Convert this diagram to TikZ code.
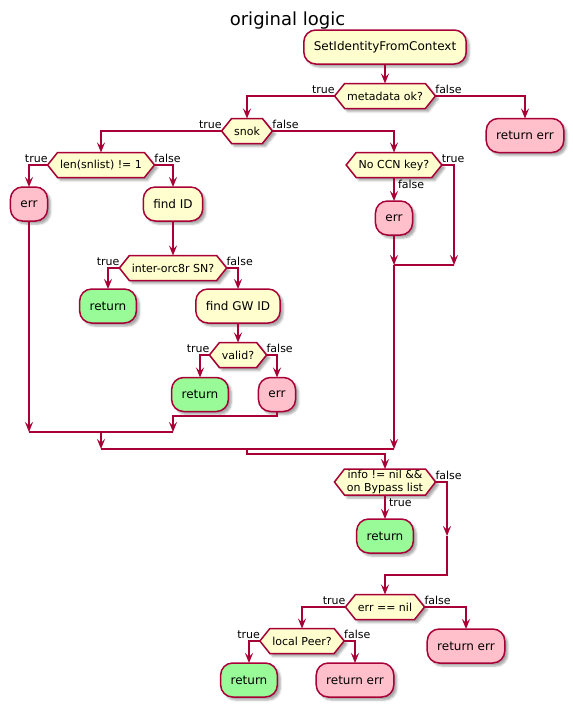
\documentclass[tikz,border=0pt]{standalone}
\usepackage{fontspec}
\setmainfont{DejaVu Sans}
\usetikzlibrary{arrows.meta,shadows,shadows.blur}
\pgfdeclarelayer{background}
\pgfsetlayers{background,main}
\definecolor{lc}{HTML}{A80036}
\definecolor{cream}{HTML}{FEFECE}
\definecolor{pinkc}{HTML}{FFC0CB}
\definecolor{greenc}{HTML}{98FB98}
\tikzset{
 shad/.style={blur shadow={shadow xshift=3pt,shadow yshift=-3pt,shadow blur radius=2pt,shadow opacity=35}},
 box/.style={draw=lc, line width=1.5pt, rounded corners=12pt, minimum height=34pt, inner xsep=10pt, inner ysep=0pt, outer sep=0pt, font=\fontsize{12}{14}\selectfont, shad},
 act/.style={box, fill=cream},
 bad/.style={box, fill=pinkc},
 good/.style={box, fill=greenc},
 dec/.style={draw=none, minimum height=25pt, inner xsep=12.5pt, inner ysep=1pt, outer sep=0pt, font=\fontsize{11}{13}\selectfont, align=center},
 conn/.style={draw=lc, line width=1.5pt, -{Stealth[length=10pt,width=8pt,inset=4pt]}},
 plain/.style={draw=lc, line width=1.5pt},
 lbl/.style={font=\fontsize{11}{13}\selectfont, inner sep=0pt, outer sep=0pt},
}
\newcommand\hexshape[1]{%
 \path[shad, fill=cream, draw=lc, line width=1.5pt] (#1.west) -- ([xshift=10pt]#1.north west) -- ([xshift=-10pt]#1.north east) -- (#1.east) -- ([xshift=-10pt]#1.south east) -- ([xshift=10pt]#1.south west) -- cycle;}
\begin{document}
\begin{tikzpicture}[x=1pt,y=-1pt]
\useasboundingbox (0,0) rectangle (573,707);
\node[font=\fontsize{18}{21}\selectfont, anchor=base, inner sep=0pt] (title) at (287.5,25.3) {original logic};
\node[act] (start) at (385,47) {SetIdentityFromContext};
\node[dec] (d1) at (385,96) {metadata ok?};
\node[bad] (r1) at (525,135.5) {return err};
\node[dec] (d2) at (247,131) {snok};
\node[dec] (d3) at (101,165) {len(snlist) != 1};
\node[dec] (d4) at (394,165) {No CCN key?};
\node[bad] (e1) at (29,204) {err};
\node[act] (fid) at (173,204) {find ID};
\node[bad] (e2) at (394,218) {err};
\node[dec] (d5) at (173,268) {inter-orc8r SN?};
\node[good] (r2) at (108,306) {return};
\node[act] (fgw) at (238,306) {find GW ID};
\node[dec] (d6) at (238,355) {valid?};
\node[good] (r3) at (200,394.5) {return};
\node[bad] (e3) at (277,394.5) {err};
\node[dec, minimum height=26pt, inner ysep=0pt] (d7) at (385,482) {info != nil \&\&\\on Bypass list};
\node[good] (r4) at (385,536) {return};
\node[dec] (d8) at (385,607) {err == nil};
\node[bad] (r5) at (466,646) {return err};
\node[dec] (d9) at (302,641) {local Peer?};
\node[good] (r6) at (249,680) {return};
\node[bad] (r7) at (355,680) {return err};
\begin{pgfonlayer}{background}
\hexshape{d1}\hexshape{d2}\hexshape{d3}\hexshape{d4}\hexshape{d5}\hexshape{d6}\hexshape{d7}\hexshape{d8}\hexshape{d9}
\end{pgfonlayer}
% labels
\node[lbl, anchor=base east] (l1t) at ([yshift=2.5pt]d1.west) {true};
\node[lbl, anchor=base west] (l1f) at ([yshift=2.5pt]d1.east) {false};
\node[lbl, anchor=base east] (l2t) at ([yshift=2.5pt]d2.west) {true};
\node[lbl, anchor=base west] (l2f) at ([yshift=2.5pt]d2.east) {false};
\node[lbl, anchor=base east] (l3t) at ([yshift=2.5pt]d3.west) {true};
\node[lbl, anchor=base west] (l3f) at ([yshift=2.5pt]d3.east) {false};
\node[lbl, anchor=base west] (l4t) at ([yshift=2.5pt]d4.east) {true};
\node[lbl, anchor=base west] (l4f) at ([xshift=4pt,yshift=-11pt]d4.south) {false};
\node[lbl, anchor=base east] (l5t) at ([yshift=2.5pt]d5.west) {true};
\node[lbl, anchor=base west] (l5f) at ([yshift=2.5pt]d5.east) {false};
\node[lbl, anchor=base east] (l6t) at ([yshift=2.5pt]d6.west) {true};
\node[lbl, anchor=base west] (l6f) at ([yshift=2.5pt]d6.east) {false};
\node[lbl, anchor=base west] (l7f) at ([yshift=2.5pt]d7.east) {false};
\node[lbl, anchor=base west] (l7t) at ([xshift=4pt,yshift=-11pt]d7.south) {true};
\node[lbl, anchor=base east] (l8t) at ([yshift=2.5pt]d8.west) {true};
\node[lbl, anchor=base west] (l8f) at ([yshift=2.5pt]d8.east) {false};
\node[lbl, anchor=base east] (l9t) at ([yshift=2.5pt]d9.west) {true};
\node[lbl, anchor=base west] (l9f) at ([yshift=2.5pt]d9.east) {false};
% connectors
\draw[conn] (start.south) -- (d1.north);
\draw[conn] (d1.west) -| (d2.north);
\draw[conn] (d1.east) -| (r1.north);
\draw[conn] (d2.west) -| (d3.north);
\draw[conn] (d2.east) -| (d4.north);
\draw[conn] (d3.west) -| (e1.north);
\draw[conn] (d3.east) -| (fid.north);
\draw[conn] (d4.south) -- (e2.north);
\coordinate (m1l) at (394,265);
\coordinate (m1r) at (454,265);
\draw[conn] (d4.east) -| (m1r);
\draw[conn] (e2.south) -- (m1l);
\draw[plain] (m1l) -- (m1r);
\draw[conn] (fid.south) -- (d5.north);
\draw[conn] (d5.west) -| (r2.north);
\draw[conn] (d5.east) -| (fgw.north);
\draw[conn] (fgw.south) -- (d6.north);
\draw[conn] (d6.west) -| (r3.north);
\draw[conn] (d6.east) -| (e3.north);
\coordinate (m2l) at (29,432);
\coordinate (m2r) at (173,432);
\coordinate (m2c) at (101,432);
\coordinate (k1) at (277,416);
\draw[conn] (e3.south) -- (k1) -| (m2r);
\draw[conn] (e1.south) -- (m2l);
\draw[plain] (m2l) -- (m2r);
\coordinate (m3l) at (101,449);
\coordinate (m3r) at (394,449);
\coordinate (m3c) at (247,449);
\draw[conn] (m2c) -- (m3l);
\draw[conn] (m1l) -- (m3r);
\draw[plain] (m3l) -- (m3r);
\coordinate (k2) at (247,454);
\draw[conn] (m3c) -- (k2) -| (d7.north);
\draw[conn] (d7.south) -- (r4.north);
\coordinate (m4) at (447,536);
\coordinate (k3) at (447,575);
\draw[conn] (d7.east) -| (m4);
\draw[conn] (m4) -- (k3) -| (d8.north);
\draw[conn] (d8.west) -| (d9.north);
\draw[conn] (d8.east) -| (r5.north);
\draw[conn] (d9.west) -| (r6.north);
\draw[conn] (d9.east) -| (r7.north);
\end{tikzpicture}
\end{document}
